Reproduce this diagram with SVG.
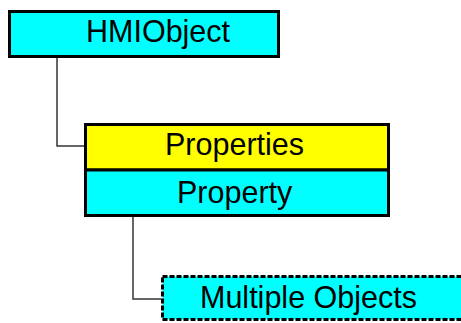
<svg xmlns="http://www.w3.org/2000/svg" width="461" height="323" viewBox="0 0 461 323">
<style>
.box{stroke:#000;stroke-width:3}
.cyan{fill:#00FFFF}
.yellow{fill:#FFFF00}
.dash{stroke-dasharray:5 2}
.lbl{font-family:"Liberation Sans",Arial,sans-serif;font-size:30.5px;fill:#000}
.conn{fill:none;stroke:#333;stroke-width:1.5}
</style>
<rect width="461" height="323" fill="#fff"/>
<g id="connectors">
<polyline class="conn" points="57,58 57,146 84,146"/>
<polyline class="conn" points="133,217 133,299 161,299"/>
</g>
<g id="hmiobject">
<rect class="box cyan" x="9.5" y="11.5" width="269" height="45"/>
<text class="lbl" x="86" y="42">HMIObject</text>
</g>
<g id="properties">
<rect class="box yellow" x="85.5" y="124.5" width="303" height="45.5"/>
<text class="lbl" x="165" y="155">Properties</text>
</g>
<g id="property">
<rect class="box cyan" x="85.5" y="170" width="303" height="45.5"/>
<text class="lbl" x="177" y="203">Property</text>
</g>
<g id="multiple-objects">
<rect class="box cyan dash" x="162.5" y="276.5" width="310" height="43"/>
<text class="lbl" x="200" y="308">Multiple Objects</text>
</g>
</svg>
